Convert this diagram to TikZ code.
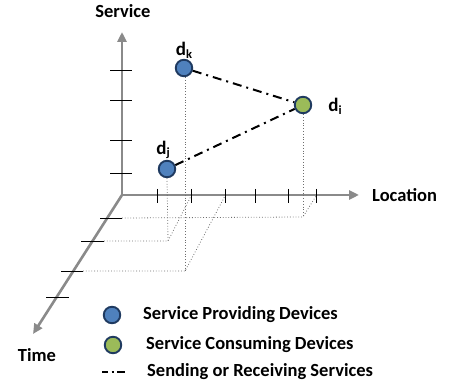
\documentclass[tikz,border=0pt]{standalone}
\usepackage{fontspec}
\setmainfont{Carlito}
\usetikzlibrary{arrows.meta}
\definecolor{axisgray}{HTML}{8A8A8A}
\definecolor{provblue}{HTML}{4F81BD}
\definecolor{consgreen}{HTML}{9BBB59}
\definecolor{devborder}{HTML}{1F3A60}
\definecolor{projgray}{HTML}{6E6E6E}
\newcommand{\dsub}[1]{d\raisebox{-0.3ex}{\fontsize{12.5}{12.5}\selectfont #1}}
\begin{document}
\begin{tikzpicture}[x=1pt,y=-1pt,
  axis/.style={draw=axisgray, line width=2.6pt, -{Triangle[length=10pt,width=9pt]}},
  tickmark/.style={draw=black, line width=0.9pt},
  proj/.style={draw=projgray, dotted, line width=0.8pt},
  dev/.style={circle, draw=devborder, line width=1.9pt, minimum size=16.5pt, inner sep=0pt},
  prov/.style={dev, fill=provblue},
  cons/.style={dev, fill=consgreen},
  link/.style={draw=black, line width=2pt, dash pattern=on 9pt off 5pt on 2pt off 5pt},
  lbl/.style={font=\bfseries\fontsize{18.5}{20}\selectfont, inner sep=0pt},
  dlbl/.style={font=\bfseries\fontsize{19}{20}\selectfont, inner sep=0pt}
]
\useasboundingbox (0,0) rectangle (453,387);

% axes
\coordinate (O) at (122,195);
\coordinate (Stop) at (122,32);
\coordinate (Lend) at (359,195);
\coordinate (Tend) at (33,334);
\draw[axis] (O) -- (Stop);
\draw[axis] (O) -- (Lend);
\draw[axis] (O) -- (Tend);

% service ticks
\foreach \y in {70,100,140,173} \draw[tickmark] (110,\y) -- (132,\y);
% location ticks
\foreach \x in {157,191,225,255,288,316} \draw[tickmark] (\x,189) -- (\x,203);
% time ticks
\coordinate (t1a) at (100,218); \coordinate (t1b) at (122,218);
\coordinate (t2a) at (81,241);  \coordinate (t2b) at (104,241);
\coordinate (t3a) at (61,271);  \coordinate (t3b) at (83,271);
\coordinate (t4a) at (46,297);  \coordinate (t4b) at (69,297);
\draw[tickmark] (t1a) -- (t1b);
\draw[tickmark] (t2a) -- (t2b);
\draw[tickmark] (t3a) -- (t3b);
\draw[tickmark] (t4a) -- (t4b);

% devices
\node[prov] (dk) at (184,68) {};
\node[prov] (dj) at (167,169) {};
\node[cons] (di) at (303,105) {};

\node[dlbl] (lk) at (184,50) {\dsub{k}};
\node[dlbl] (lj) at (163,150) {\dsub{j}};
\node[dlbl] (li) at (335,106) {\dsub{i}};

% projections
\coordinate (pi) at (303,217);
\coordinate (pj) at (168,241);
\coordinate (pk) at (185,271);
\coordinate (li1) at (316,196);
\coordinate (lj1) at (191,196);
\coordinate (lk1) at (225,196);
\draw[proj] (di.south) -- (pi);
\draw[proj] (t1b) -- (pi) -- (li1);
\draw[proj] (dj.south) -- (pj);
\draw[proj] (t2b) -- (pj) -- (lj1);
\draw[proj] (dk.south -| pk) -- (pk);
\draw[proj] (t3b) -- (pk) -- (lk1);

% links
\draw[link] (dk) -- (di);
\draw[link] (dj) -- (di);

% axis labels
\node[lbl] (sl) at (123,11) {Service};
\node[lbl, anchor=west] (ll) at (372,195) {Location};
\node[lbl] (tl) at (37,355) {Time};

% legend
\node[prov] (leg1) at (112,315) {};
\node[cons] (leg2) at (113,345) {};
\coordinate (leg3a) at (102,372);
\coordinate (leg3b) at (125,372);
\draw[draw=black, line width=2pt, dash pattern=on 6pt off 3.5pt on 2pt off 3.5pt on 8pt] (leg3a) -- (leg3b);
\node[lbl, anchor=west] (t1) at (143,315) {Service Providing Devices};
\node[lbl, anchor=west] (t2) at (146,345) {Service Consuming Devices};
\node[lbl, anchor=west] (t3) at (147,372) {Sending or Receiving Services};
\end{tikzpicture}
\end{document}
